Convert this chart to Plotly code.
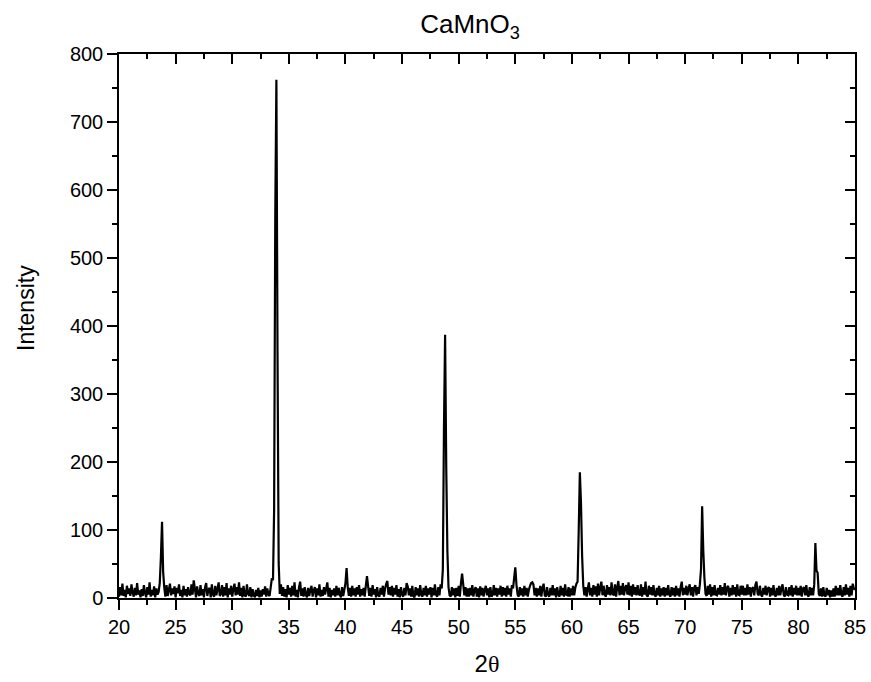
import numpy as np
import plotly.graph_objects as go

# 2-theta grid (degrees), 0.1 step from 20 to 85
two_theta_start = 20.0
two_theta_step = 0.1

# Intensity values, one row per degree (x.0 ... x.9)
intensity = [
    2, 16, 4, 21, 3, 12, 1, 18, 6, 14,        # 20
    3, 20, 8, 2, 15, 4, 22, 5, 11, 1,         # 21
    13, 3, 19, 7, 1, 16, 5, 23, 2, 12,        # 22
    4, 17, 1, 14, 5, 9, 22, 60, 112, 38,      # 23
    15, 2, 19, 3, 12, 21, 4, 14, 6, 17,       # 24
    1, 15, 7, 20, 3, 12, 1, 18, 4, 13,        # 25
    2, 16, 6, 4, 20, 5, 26, 14, 1, 17,        # 26
    6, 3, 19, 4, 13, 1, 16, 22, 3, 12,        # 27
    15, 1, 20, 5, 2, 18, 4, 13, 23, 3,        # 28
    6, 19, 2, 16, 4, 22, 1, 14, 5, 18,        # 29
    2, 13, 21, 4, 16, 5, 23, 3, 15, 1,        # 30
    18, 4, 2, 20, 6, 3, 16, 1, 13, 4,         # 31
    1, 12, 3, 15, 1, 11, 2, 13, 5, 17,        # 32
    2, 14, 5, 3, 16, 29, 26, 130, 560, 762,   # 33
    360, 52, 6, 20, 3, 16, 2, 13, 1, 19,      # 34
    5, 15, 2, 18, 4, 23, 2, 12, 1, 16,        # 35
    24, 3, 14, 2, 16, 5, 1, 15, 3, 12,        # 36
    18, 2, 11, 16, 1, 14, 4, 20, 2, 12,       # 37
    3, 16, 5, 14, 23, 2, 15, 1, 12, 4,        # 38
    14, 2, 18, 4, 15, 5, 1, 16, 3, 12,        # 39
    22, 44, 16, 3, 15, 2, 18, 4, 14, 2,       # 40
    16, 5, 19, 2, 13, 4, 15, 2, 18, 32,       # 41
    17, 3, 15, 2, 19, 5, 13, 1, 16, 4,        # 42
    2, 15, 5, 18, 2, 14, 21, 25, 5, 16,       # 43
    4, 18, 2, 15, 5, 19, 2, 13, 1, 16,        # 44
    5, 2, 15, 4, 22, 17, 4, 14, 2, 18,        # 45
    3, 1, 16, 4, 14, 2, 19, 5, 2, 15,         # 46
    4, 18, 2, 14, 5, 16, 1, 15, 4, 20,        # 47
    5, 2, 16, 4, 20, 14, 42, 250, 387, 192,   # 48
    70, 16, 4, 2, 16, 4, 14, 1, 15, 3,        # 49
    18, 2, 22, 36, 20, 4, 16, 2, 14, 2,       # 50
    15, 4, 19, 2, 12, 16, 2, 14, 1, 17,       # 51
    4, 15, 2, 12, 18, 4, 14, 1, 16, 2,        # 52
    5, 19, 4, 15, 2, 14, 5, 18, 2, 16,        # 53
    4, 15, 2, 18, 5, 14, 2, 19, 14, 30,       # 54
    45, 20, 5, 2, 16, 4, 14, 2, 18, 4,        # 55
    15, 2, 12, 18, 22, 23, 20, 4, 15, 2,      # 56
    14, 4, 18, 2, 15, 21, 4, 2, 16, 5,        # 57
    2, 15, 4, 19, 4, 14, 1, 16, 5, 2,         # 58
    18, 4, 15, 2, 20, 5, 4, 16, 2, 14,        # 59
    4, 18, 4, 15, 21, 24, 100, 185, 140, 62,  # 60
    18, 4, 16, 2, 14, 23, 4, 15, 2, 19,       # 61
    5, 17, 2, 21, 4, 15, 24, 4, 18, 5,        # 62
    2, 19, 5, 16, 4, 23, 6, 4, 20, 2,         # 63
    16, 25, 4, 18, 5, 22, 4, 15, 19, 5,       # 64
    23, 4, 18, 2, 20, 5, 16, 4, 19, 6,        # 65
    4, 20, 2, 16, 5, 24, 4, 2, 18, 5,         # 66
    16, 4, 19, 5, 2, 15, 4, 18, 2, 14,        # 67
    4, 16, 2, 15, 4, 19, 5, 2, 16, 4,         # 68
    15, 2, 18, 4, 14, 2, 16, 24, 4, 15,       # 69
    5, 18, 4, 14, 20, 4, 16, 2, 15, 19,       # 70
    4, 16, 6, 20, 42, 135, 70, 30, 6, 3,      # 71
    18, 5, 20, 2, 16, 4, 19, 5, 4, 15,        # 72
    5, 19, 4, 16, 5, 22, 4, 15, 18, 2,        # 73
    15, 4, 19, 5, 16, 2, 20, 5, 4, 18,        # 74
    5, 18, 4, 15, 4, 20, 5, 16, 2, 14,        # 75
    16, 4, 19, 24, 6, 4, 18, 5, 2, 15,        # 76
    5, 18, 4, 14, 16, 2, 15, 4, 19, 5,        # 77
    2, 15, 4, 18, 4, 14, 20, 5, 2, 16,        # 78
    5, 4, 16, 4, 19, 2, 15, 5, 18, 4,         # 79
    15, 4, 18, 2, 14, 16, 4, 19, 5, 2,        # 80
    16, 4, 15, 4, 20, 81, 40, 37, 6, 3,       # 81
    14, 2, 16, 4, 2, 15, 4, 12, 1, 11,        # 82
    2, 14, 2, 18, 4, 15, 4, 19, 5, 2,         # 83
    16, 4, 20, 5, 15, 2, 18, 4, 21, 14,       # 84
    12,                                       # 85
]

two_theta = np.round(two_theta_start + two_theta_step * np.arange(len(intensity)), 2)

x_tick_vals = [20, 25, 30, 35, 40, 45, 50, 55, 60, 65, 70, 75, 80, 85]
y_tick_vals = [0, 100, 200, 300, 400, 500, 600, 700, 800]

FONT = "Liberation Sans, Arial, sans-serif"

fig = go.Figure()
fig.add_trace(go.Scatter(
    x=two_theta, y=intensity, mode="lines",
    line=dict(color="black", width=2.2, simplify=False), showlegend=False,
))
# invisible trace to activate mirrored axes (top / right with inward ticks)
fig.add_trace(go.Scatter(x=[None], y=[None], xaxis="x2", yaxis="y2", showlegend=False))

axis_common = dict(showgrid=False, zeroline=False, showline=True,
                   linecolor="black", linewidth=1.5, automargin=False)

fig.update_layout(
    width=871, height=682,
    margin=dict(l=119, r=16, t=54, b=84),
    paper_bgcolor="white", plot_bgcolor="white",
    font=dict(family=FONT, color="black"),
    title=dict(text="CaMnO<sub>3</sub>", x=470 / 871, xanchor="center",
               y=1 - 24 / 682, yanchor="middle",
               font=dict(family=FONT, size=26, color="black")),
    xaxis=dict(**axis_common, range=[20, 85], tickvals=x_tick_vals,
               ticks="outside", ticklen=10, tickwidth=1.5, tickcolor="black",
               tickfont=dict(size=20, family=FONT),
               minor=dict(dtick=2.5, tick0=20, ticks="outside", ticklen=5,
                          tickwidth=1.5, tickcolor="black"),
               title=dict(text="2<span style=\"font-family:'Liberation Serif', serif\">θ</span>",
                          font=dict(size=24, family=FONT), standoff=18)),
    yaxis=dict(**axis_common, range=[0, 800], tickvals=y_tick_vals,
               ticks="outside", ticklen=10, tickwidth=1.5, tickcolor="black",
               tickfont=dict(size=20, family=FONT),
               minor=dict(dtick=50, tick0=0, ticks="outside", ticklen=5,
                          tickwidth=1.5, tickcolor="black")),
    xaxis2=dict(**axis_common, range=[20, 85], overlaying="x", side="top",
                tickvals=x_tick_vals, ticks="inside", ticklen=10, tickwidth=1.5,
                tickcolor="black", showticklabels=False,
                minor=dict(dtick=2.5, tick0=20, ticks="inside", ticklen=5,
                           tickwidth=1.5, tickcolor="black")),
    yaxis2=dict(**axis_common, range=[0, 800], overlaying="y", side="right",
                tickvals=y_tick_vals, ticks="inside", ticklen=10, tickwidth=1.5,
                tickcolor="black", showticklabels=False,
                minor=dict(dtick=50, tick0=0, ticks="inside", ticklen=5,
                           tickwidth=1.5, tickcolor="black")),
    annotations=[dict(text="Intensity", xref="paper", yref="paper",
                      x=-(119 - 26) / 736, y=(598 - 308) / 544,
                      xanchor="center", yanchor="middle", textangle=-90,
                      showarrow=False, font=dict(size=23, family=FONT))],
)

fig.write_html("out.html")
